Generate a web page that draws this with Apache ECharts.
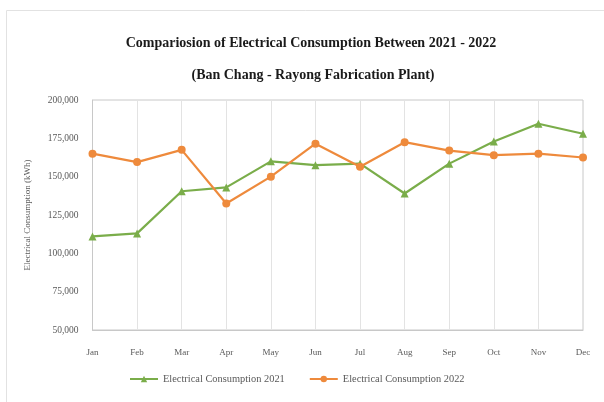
<!DOCTYPE html>
<html>
<head>
<meta charset="utf-8">
<script src="https://cdn.jsdelivr.net/npm/echarts@6/dist/echarts.min.js"></script>
<style>html,body{margin:0;padding:0;background:#fff}#c{width:604px;height:402px}</style>
</head>
<body>
<div id="c"></div>
<script>
var categories = ['Jan','Feb','Mar','Apr','May','Jun','Jul','Aug','Sep','Oct','Nov','Dec'];
var consumption2021 = [111000, 113000, 140500, 143000, 160000, 157500, 158500, 139000, 158500, 173000, 184500, 178000];
var consumption2022 = [165000, 159500, 167500, 132500, 150000, 171500, 156500, 172500, 167000, 164000, 165000, 162500];
var seriesNames = ['Electrical Consumption 2021', 'Electrical Consumption 2022'];

var chart = echarts.init(document.getElementById('c'), null, {renderer: 'canvas'});
var serif = '"Liberation Serif", "DejaVu Serif", serif';
chart.setOption({
  backgroundColor: '#fff',
  animation: false,
  graphic: [{
    type: 'rect', left: 4, top: 8, shape: {width: 620, height: 420},
    style: {fill: 'none', stroke: '#e2e2e2', lineWidth: 1}, silent: true, z: -1
  }],
  title: [{
    text: 'Compariosion of Electrical Consumption Between 2021 - 2022',
    left: 306, top: 31, textAlign: 'center',
    textStyle: {fontFamily: serif, fontSize: 14, fontWeight: 'bold', color: '#1a1a1a'}
  }, {
    text: '(Ban Chang - Rayong Fabrication Plant)',
    left: 308, top: 63, textAlign: 'center',
    textStyle: {fontFamily: serif, fontSize: 14, fontWeight: 'bold', color: '#1a1a1a'}
  }],
  grid: {left: 92.5, right: 21, top: 100, bottom: 72, containLabel: false,
    show: true, borderColor: '#c8c8c8', borderWidth: 1, backgroundColor: 'transparent'},
  legend: {
    bottom: 13, left: 124, itemGap: 24, itemWidth: 28, itemHeight: 8,
    textStyle: {fontFamily: serif, fontSize: 10.4, color: '#595959'},
    data: seriesNames
  },
  xAxis: {
    type: 'category', data: categories, boundaryGap: false,
    axisLine: {show: true, lineStyle: {color: '#c8c8c8'}},
    axisTick: {show: false},
    axisLabel: {fontFamily: serif, fontSize: 9, color: '#595959', margin: 18},
    splitLine: {show: true, lineStyle: {color: '#e3e3e3'}}
  },
  yAxis: {
    type: 'value', min: 50000, max: 200000, interval: 25000,
    name: 'Electrical Consumption (kWh)', nameLocation: 'middle', nameGap: 60,
    nameTextStyle: {fontFamily: serif, fontSize: 9, color: '#595959'},
    axisLine: {show: true, lineStyle: {color: '#c8c8c8'}},
    axisTick: {show: false},
    axisLabel: {fontFamily: serif, fontSize: 9.5, color: '#595959', margin: 14,
      formatter: function (v) { return v.toLocaleString('en-US'); }},
    splitLine: {show: false}
  },
  series: [{
    name: seriesNames[0], type: 'line', data: consumption2021,
    symbol: 'triangle', symbolSize: 8,
    lineStyle: {color: '#7aad4a', width: 2.2},
    itemStyle: {color: '#7aad4a'}
  }, {
    name: seriesNames[1], type: 'line', data: consumption2022,
    symbol: 'circle', symbolSize: 8,
    lineStyle: {color: '#ee8a3c', width: 2.2},
    itemStyle: {color: '#ee8a3c'}
  }]
});
</script>
</body>
</html>
